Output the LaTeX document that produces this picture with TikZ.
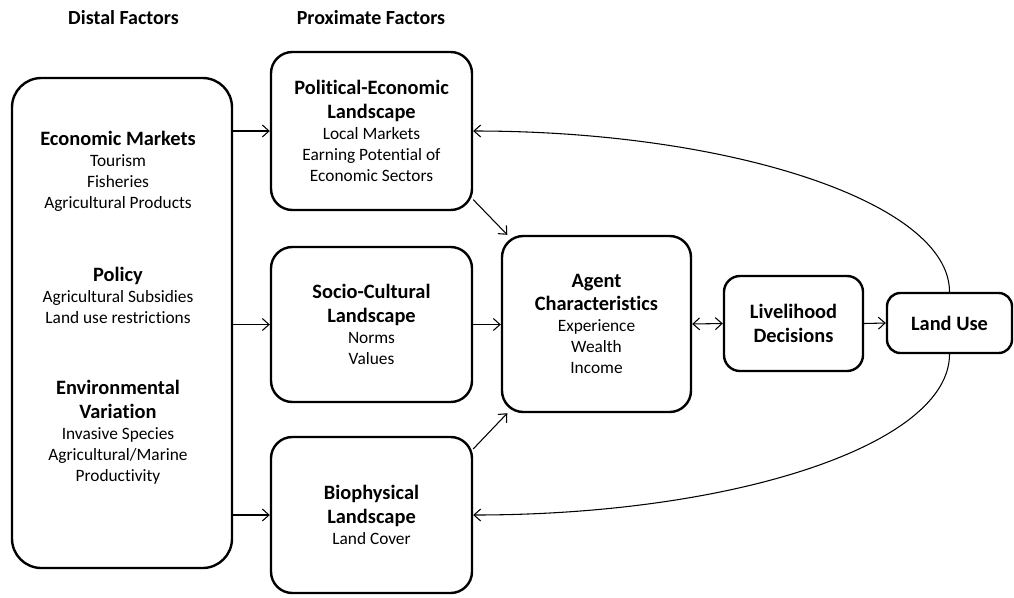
\documentclass[tikz,border=0pt]{standalone}
\usepackage{fontspec}
\setmainfont{Carlito}[Ligatures=NoCommon]
\usetikzlibrary{arrows.meta, positioning}
\newcommand{\hd}[1]{{\fontsize{15.3}{18}\selectfont\bfseries #1}}

\begin{document}
\begin{tikzpicture}[x=0.75pt, y=-0.75pt,
  barb/.tip={Straight Barb[length=5pt, width=9pt]},
  box/.style={draw, line width=1.8pt, rounded corners=16pt, align=center, inner sep=0pt, font=\fontsize{13}{15.75}\selectfont},
  txt/.style={align=center, inner sep=0pt, font=\fontsize{13}{15.75}\selectfont},
  head/.style={inner sep=0pt, font=\fontsize{15}{18}\selectfont\bfseries},
  link/.style={line width=0.8pt, -barb}]
  \useasboundingbox (0,0) rectangle (1014,597);

  % column headings
  \node[head] (distalhead) at (123.5,18) {Distal Factors};
  \node[head] (proxhead) at (371,18) {Proximate Factors};

  % Distal factors
  \node[box, minimum width=165pt, minimum height=367.5pt, rounded corners=22pt] (distal) at (122,323) {};
  \node[txt] (markets) at (118,171) {\hd{Economic Markets}\\ Tourism\\ Fisheries\\ Agricultural Products};
  \node[txt] (policy) at (118,295) {\hd{Policy}\\ Agricultural Subsidies\\ Land use restrictions};
  \node[txt] (envvar) at (118,432) {\hd{Environmental}\\[2pt] \hd{Variation}\\ Invasive Species\\ Agricultural/Marine\\ Productivity};

  % Proximate factors
  \node[box, minimum width=150.75pt, minimum height=118.5pt] (political) at (371.5,131) {\hd{Political-Economic}\\[2pt] \hd{Landscape}\\ Local Markets\\ Earning Potential of\\ Economic Sectors};
  \node[box, minimum width=150.75pt, minimum height=116.25pt] (socio) at (371.5,324.5) {\hd{Socio-Cultural}\\[2pt] \hd{Landscape}\\ Norms\\ Values};
  \node[box, minimum width=150.75pt, minimum height=117pt] (bio) at (371.5,515) {\hd{Biophysical}\\[2pt] \hd{Landscape}\\ Land Cover};

  % Agent, decisions, outcome
  \node[box, minimum width=141.75pt, minimum height=132pt] (agent) at (596.5,324) {\hd{Agent}\\[2pt] \hd{Characteristics}\\ Experience\\ Wealth\\ Income};
  \node[box, minimum width=104.25pt, minimum height=71.25pt, rounded corners=12pt] (livelihood) at (793.5,323.5) {\hd{Livelihood}\\[2pt] \hd{Decisions}};
  \node[box, minimum width=93.75pt, minimum height=45pt, rounded corners=10pt] (landuse) at (949.5,323) {\hd{Land Use}};

  % connectors
  \draw[link] (distal.east |- political.west) -- (political.west);
  \draw[link] (distal.east |- socio.west) -- (socio.west);
  \draw[link] (distal.east |- bio.west) -- (bio.west);
  \draw[link] (political.-34) -- (agent.135);
  \draw[link] (socio.east) -- (socio.east -| agent.west);
  \draw[link] (bio.33) -- (agent.-135);
  \draw[link, barb-barb] (agent.east) -- (livelihood.west);
  \draw[link] (livelihood.east) -- (landuse.west);

  % feedback loops
  \draw[link] (landuse.north) .. controls +(0,-89) and +(258,0) .. (political.east);
  \draw[link] (landuse.south) .. controls +(0,90) and +(262,0) .. (bio.east);
\end{tikzpicture}
\end{document}
